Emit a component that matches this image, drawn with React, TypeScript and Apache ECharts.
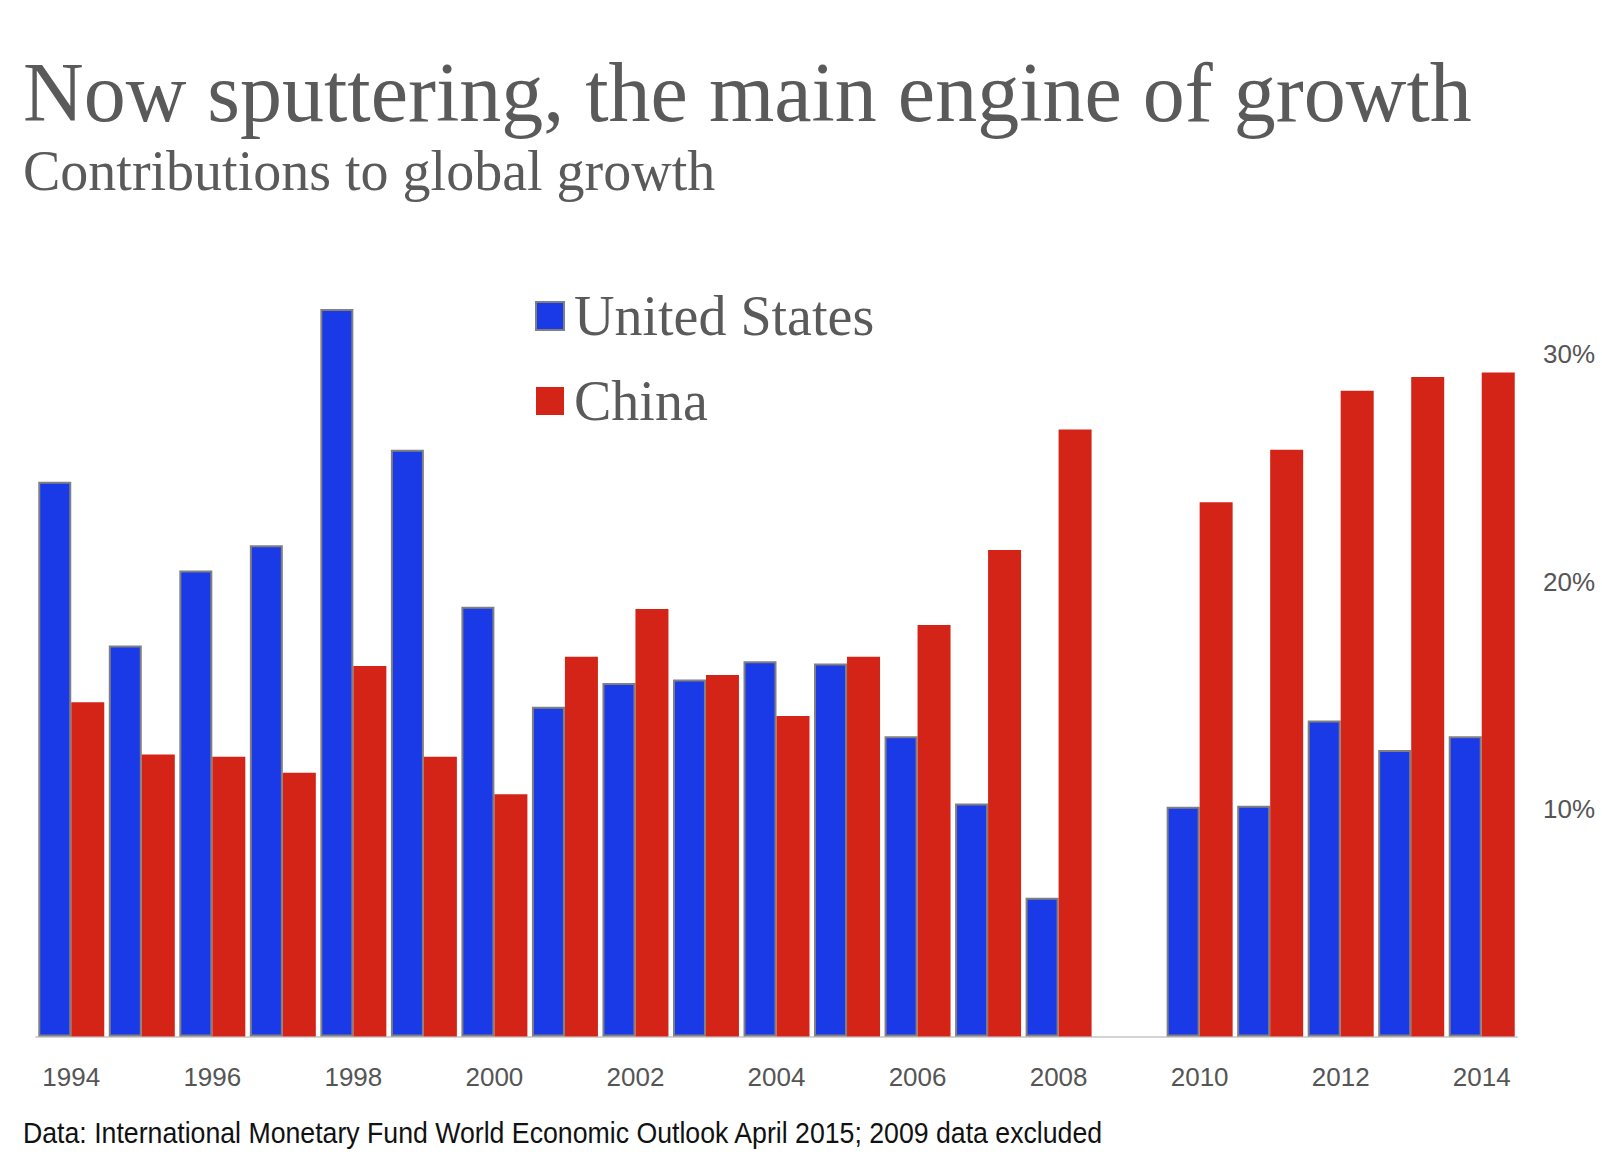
import React, { useEffect, useRef } from "react";
import * as echarts from "echarts";

const years = ["1994","1995","1996","1997","1998","1999","2000","2001","2002","2003","2004","2005","2006","2007","2008","2009","2010","2011","2012","2013","2014"];
const usValues = [24.4, 17.2, 20.5, 21.6, 32.0, 25.8, 18.9, 14.5, 15.55, 15.7, 16.5, 16.4, 13.2, 10.25, 6.1, null, 10.1, 10.15, 13.9, 12.6, 13.2];
const chinaValues = [14.7, 12.4, 12.3, 11.6, 16.3, 12.3, 10.65, 16.7, 18.8, 15.9, 14.1, 16.7, 18.1, 21.4, 26.7, null, 23.5, 25.8, 28.4, 29.0, 29.2];
const yTicks = [0, 10, 20, 30, 40];

const TITLE = "Now sputtering, the main engine of growth";
const SUBTITLE = "Contributions to global growth";
const SOURCE = "Data: International Monetary Fund World Economic Outlook April 2015; 2009 data excluded";

const SANS = '"Liberation Sans", Arial, sans-serif';
const SERIF = '"Liberation Serif", "Times New Roman", serif';

export default function App() {
  const ref = useRef<HTMLDivElement>(null);
  useEffect(() => {
    document.body.style.margin = "0";
    const chart = echarts.init(ref.current!, null, { renderer: "svg" });
    chart.setOption({
      animation: false,
      backgroundColor: "#ffffff",
      title: [
        { text: TITLE, left: 18, top: 45, textStyle: { fontFamily: SERIF, fontSize: 84, lineHeight: 84, fontWeight: "normal", color: "#5a5a5a" } },
        { text: SUBTITLE, left: 18, top: 138, textStyle: { fontFamily: SERIF, fontSize: 56, lineHeight: 56, fontWeight: "normal", color: "#5a5a5a" } },
      ],
      graphic: [
        {
          type: "text",
          x: 23,
          y: 1132,
          scaleX: 0.89,
          style: { text: SOURCE, font: '30px "Liberation Sans", Arial, sans-serif', fill: "#111111", verticalAlign: "middle", align: "left" },
        },
      ],
      legend: {
        orient: "vertical",
        left: 530,
        top: 283,
        itemWidth: 28,
        itemHeight: 28,
        itemGap: 29,
        icon: "rect",
        textStyle: { fontFamily: SERIF, fontSize: 56, lineHeight: 56, color: "#5a5a5a", padding: [0, 0, 0, 5] },
        data: ["United States", "China"],
      },
      grid: { left: 36, right: 85, top: 127, bottom: 129.5, containLabel: false },
      xAxis: {
        type: "category",
        data: years,
        axisLine: { show: true, lineStyle: { color: "#d4d4d4", width: 2 } },
        axisTick: { show: false },
        axisLabel: { interval: 1, margin: 27, fontFamily: SANS, fontSize: 26, color: "#555555" },
      },
      yAxis: {
        type: "value",
        position: "right",
        min: yTicks[0],
        max: yTicks[yTicks.length - 1],
        interval: 10,
        splitLine: { show: false },
        axisLine: { show: false },
        axisTick: { show: false },
        axisLabel: {
          margin: 26,
          fontFamily: SANS,
          fontSize: 26,
          color: "#555555",
          formatter: (v: number) => (v === yTicks[0] || v === yTicks[yTicks.length - 1] ? "" : v + "%"),
        },
      },
      series: [
        {
          name: "United States",
          type: "bar",
          data: usValues,
          barWidth: 33,
          barGap: "0%",
          itemStyle: { color: "#1a3ae8", borderColor: "#808080", borderWidth: 2 },
        },
        {
          name: "China",
          type: "bar",
          data: chinaValues,
          barWidth: 33,
          barGap: "0%",
          itemStyle: { color: "#d42417" },
        },
      ],
    });
    return () => chart.dispose();
  }, []);
  return <div ref={ref} style={{ width: 1602, height: 1166 }} />;
}
